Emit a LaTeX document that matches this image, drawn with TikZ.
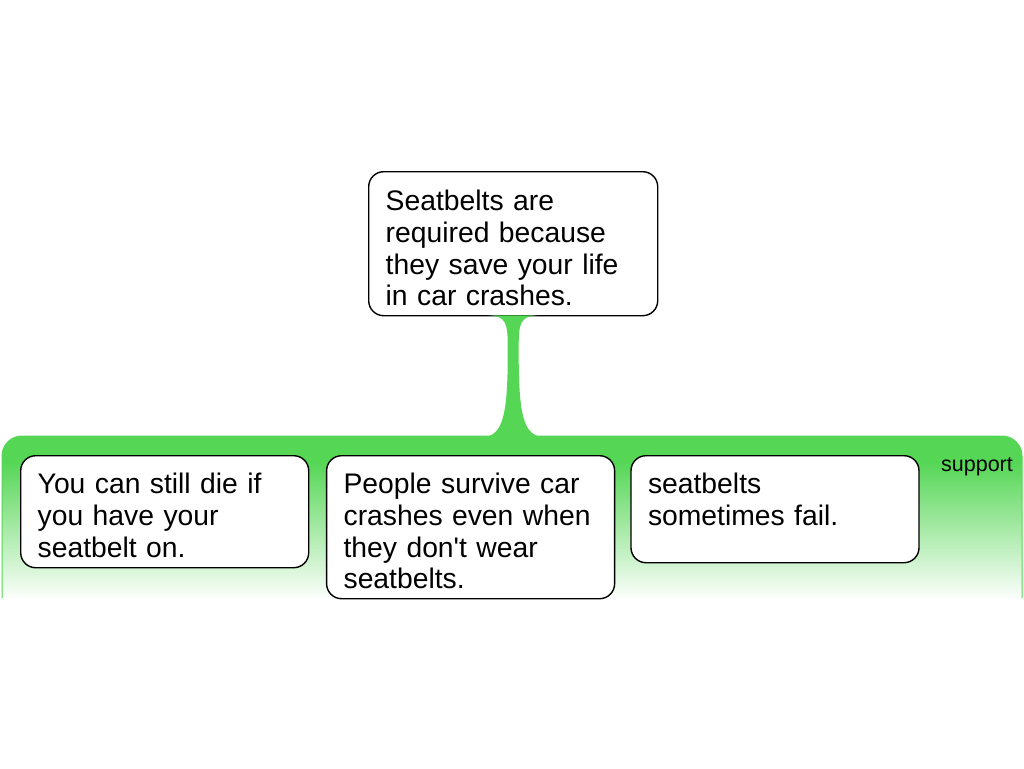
\documentclass[tikz,border=0pt]{standalone}
\usepackage{fontspec}
\setmainfont{Liberation Sans}
\usepackage{tikz}
\usepackage{xcolor}
\usetikzlibrary{positioning}
\definecolor{bandgreen}{RGB}{85,214,85}
\pgfdeclareverticalshading{bandfade}{100bp}{color(0bp)=(white); color(25bp)=(bandgreen!2); color(67bp)=(bandgreen); color(100bp)=(bandgreen)}

\begin{document}
\begin{tikzpicture}[
    x=1pt, y=-1pt,
    claimbox/.style={rectangle, draw=black, line width=1.4pt, fill=white, rounded corners=15pt, anchor=north west, align=left, text width=255pt, inner xsep=17pt, inner ysep=6pt, text height=33pt, font=\fontsize{28.3}{31.7}\selectfont},
    leafbox/.style={claimbox, text width=254pt, text height=32pt},
    tag/.style={font=\fontsize{21.5}{24}\selectfont, inner sep=0pt}
]
\useasboundingbox (0,0) rectangle (1024,768);

% ========== BANDA SUPPORT ==========
\shade[shading=bandfade] (2,598) -- (2,456) arc[start angle=180, end angle=270, radius=20] -- (1002,436) arc[start angle=270, end angle=360, radius=20] -- (1022,598) -- cycle;
\draw[bandgreen, line width=1pt] (2,598) -- (2,456) arc[start angle=180, end angle=270, radius=20] -- (1002,436) arc[start angle=270, end angle=360, radius=20] -- (1022,598);
\node[tag] (support) at (977,467) {support};

% ========== AFIRMACION ==========
\node[claimbox, text depth=99pt] (claim) at (368,171) {Seatbelts are\\ required because\\ they save your life\\ in car crashes.};

% ========== RAZONES ==========
\node[leafbox, text depth=68pt] (leaf1) at (20,455) {You can still die if\\ you have your\\ seatbelt on.};
\node[leafbox, text depth=99pt, right=16.5pt of leaf1.north east, anchor=north west] (leaf2) {People survive car\\ crashes even when\\ they don\textquotesingle t wear\\ seatbelts.};
\node[leafbox, text depth=63pt, right=15pt of leaf2.north east, anchor=north west] (leaf3) {seatbelts\\ sometimes fail.};

% ========== CONECTOR ==========
\fill[bandgreen, shift={(claim.south)}] (-26,-1) .. controls (-7,-1) and (-5.5,7) .. (-5.5,30) -- (-5.5,40) .. controls (-5.5,108) and (-13,121) .. (-34,121) -- (34,121) .. controls (13,121) and (5.5,108) .. (5.5,40) -- (5.5,30) .. controls (5.5,7) and (7,-1) .. (26,-1) -- cycle;

\end{tikzpicture}
\end{document}
